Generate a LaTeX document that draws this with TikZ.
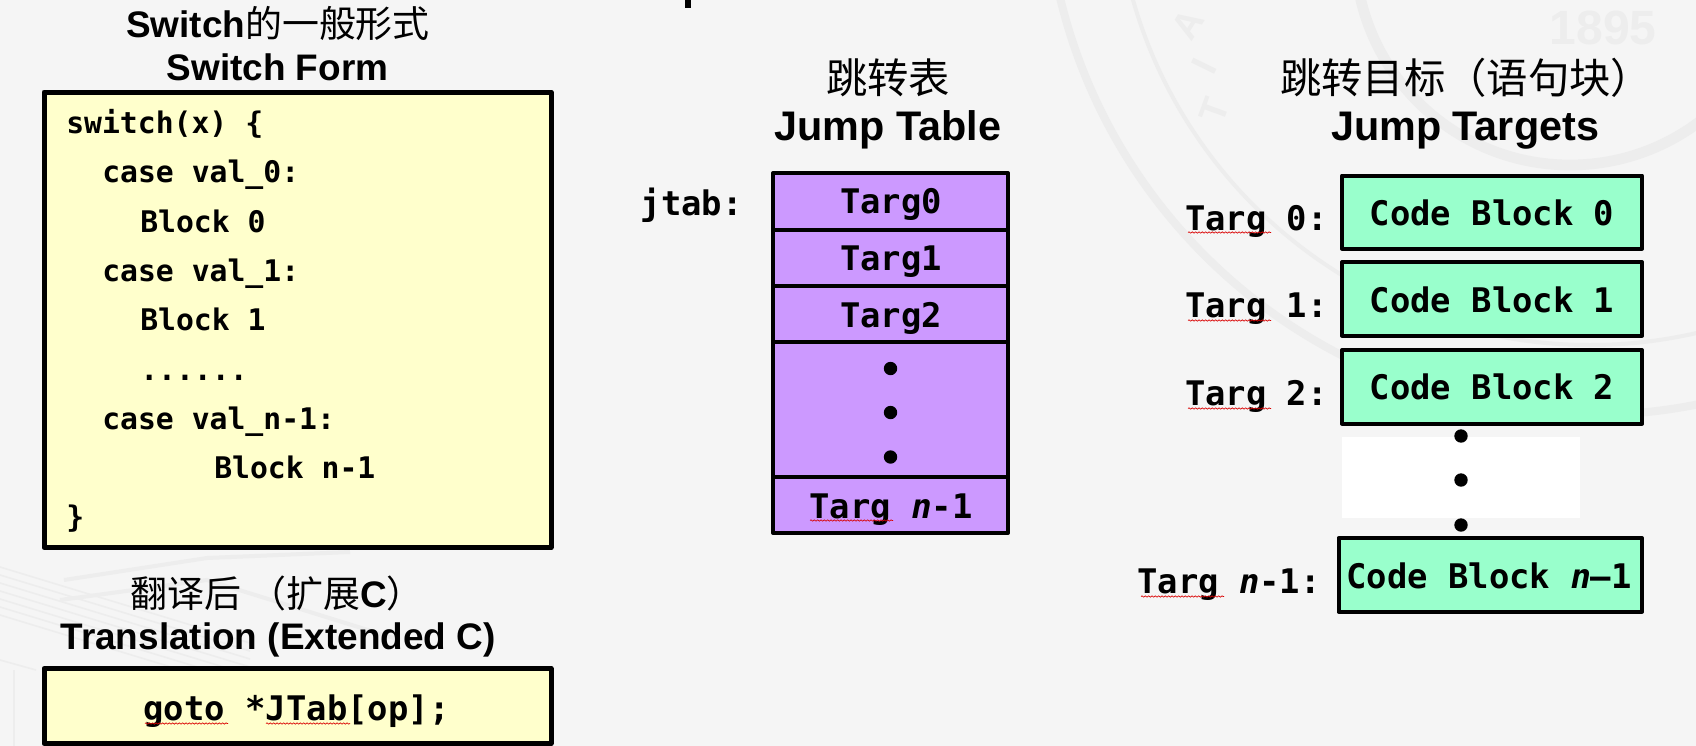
\documentclass[tikz,border=0pt]{standalone}
\usepackage{fontspec}
\setmainfont{Liberation Sans}
\setmonofont{DejaVu Sans Mono}
\newfontfamily\cjk{Noto Sans CJK SC}
\usetikzlibrary{decorations.pathmorphing}
\definecolor{slidebg}{HTML}{F5F5F5}
\definecolor{faintmark}{HTML}{EDEDED}
\definecolor{codeyellow}{HTML}{FFFFCC}
\definecolor{tablepurple}{HTML}{CC99FF}
\definecolor{blockgreen}{HTML}{99FFCC}
\newcommand{\hanzi}[1]{{\cjk\mdseries #1}}
\tikzset{
    heavybox/.style={draw=black, line width=3.75pt, line join=round},
    thinbox/.style={draw=black, line width=3pt, line join=round},
    title/.style={anchor=base, inner sep=0pt, font=\fontsize{27.7}{30}\selectfont\bfseries},
    bigtitle/.style={anchor=base, inner sep=0pt, font=\fontsize{31}{33}\selectfont\bfseries},
    code/.style={anchor=base west, inner sep=0pt, font=\fontsize{22.3}{24}\selectfont\ttfamily\bfseries},
    tabletext/.style={anchor=base, inner sep=0pt, font=\fontsize{25.4}{27}\selectfont\ttfamily\bfseries},
    targlabel/.style={anchor=base east, inner sep=0pt, font=\fontsize{25.4}{27}\selectfont\ttfamily\bfseries},
    spellmark/.style={draw=red!85!black, line width=0.5pt, decorate, decoration={snake, amplitude=0.5pt, segment length=2.5pt}},
    dotmark/.style={fill=black},
    sealring/.style={draw=faintmark},
    sealletter/.style={text=faintmark, inner sep=0pt, font=\fontsize{28}{30}\selectfont\bfseries},
    sealyear/.style={text=faintmark, inner sep=0pt, font=\fontsize{36}{36}\selectfont\bfseries},
    roofline/.style={draw=faintmark, line width=1.2pt}
}
\begin{document}
\begin{tikzpicture}[x=0.75pt, y=-0.75pt]

    \useasboundingbox (0,0) rectangle (1696,746);
    \fill[slidebg] (0,0) rectangle (1696,746);

    \begin{scope}
        \clip (0,0) rectangle (1696,746);
        \draw[sealring, line width=6pt] (1590,-130) circle (545);
        \draw[sealring, line width=3pt] (1590,-130) circle (475);
        \draw[sealring, line width=8pt] (1570,-50) circle (215);
        \node[sealyear] (year) at (1603,28) {1895};
        \node[sealletter, rotate=70] (sealt) at (1214,110) {T};
        \node[sealletter, rotate=64] (seali) at (1204,66) {I};
        \node[sealletter, rotate=58] (seala) at (1188,24) {A};
        \foreach \shift in {0,8,...,48} {
            \draw[roofline] (0,567+\shift) -- (250,643+\shift);
        }
        \draw[roofline, line width=3pt] (64,580) -- (207,558) -- (350,552);
        \draw[roofline, line width=3pt] (60,600) -- (207,580) -- (400,640);
        \draw[roofline] (0,660) -- (36,670);
        \draw[roofline] (14,670) -- (14,746);
    \end{scope}

    \fill[black] (685,0) rectangle (691,8);

    \node[title] (switchzh) at (278,37) {Switch\hanzi{的一般形式}};
    \node[title] (switchen) at (277.5,80) {Switch Form};
    \draw[heavybox, fill=codeyellow] (44,92) rectangle (551,547.5);

    \node[code] (line0) at (66,133) {switch(x) \{};
    \node[code] (line1) at (102,182) {case val\_0:};
    \node[code] (line2) at (140,232) {Block 0};
    \node[code] (line3) at (102,281) {case val\_1:};
    \node[code] (line4) at (140,330) {Block 1};
    \node[code] (line5) at (140,380) {......};
    \node[code] (line6) at (102,429) {case val\_n-1:};
    \node[code] (line7) at (214,478) {Block n-1};
    \node[code] (line8) at (66,527) {\}};

    \node[title] (transzh) at (277,607) {\hanzi{翻译后 （扩展}C\hanzi{）}};
    \node[title] (transen) at (278,649) {Translation (Extended C)};
    \draw[heavybox, fill=codeyellow] (44,668.5) rectangle (551,743.5);
    \node[tabletext] (gotoline) at (296.5,720) {goto *JTab[op];};
    \draw[spellmark] (145,723.5) -- (228,723.5);
    \draw[spellmark] (266,723.5) -- (350,723.5);

    \node[bigtitle] (tablezh) at (888,93) {\hanzi{跳转表}};
    \node[bigtitle] (tableen) at (888,140) {Jump Table};
    \node[targlabel] (jtab) at (743,215) {jtab:};
    \draw[thinbox, fill=tablepurple] (773,173) rectangle (1008,533);
    \draw[thinbox] (773,230) -- (1008,230);
    \draw[thinbox] (773,286) -- (1008,286);
    \draw[thinbox] (773,342) -- (1008,342);
    \draw[thinbox] (773,477) -- (1008,477);
    \node[tabletext] (targ0) at (891,213.5) {Targ0};
    \node[tabletext] (targ1) at (891,270) {Targ1};
    \node[tabletext] (targ2) at (891,327) {Targ2};
    \node[tabletext] (targn) at (891,518) {Targ \textit{n}-1};
    \draw[spellmark] (810,520.5) -- (893,520.5);
    \fill[dotmark] (890.5,368.5) circle (6.7);
    \fill[dotmark] (890.5,412.5) circle (6.7);
    \fill[dotmark] (890.5,457) circle (6.7);

    \node[bigtitle] (targetzh) at (1466,93) {\hanzi{跳转目标（语句块）}};
    \node[bigtitle] (targeten) at (1465,140) {Jump Targets};

    \fill[white] (1342,437) rectangle (1580,517.5);
    \fill[dotmark] (1461,436) circle (6.7);
    \fill[dotmark] (1461,480) circle (6.7);
    \fill[dotmark] (1461,525) circle (6.7);

    \draw[thinbox, fill=blockgreen] (1342,175.5) rectangle (1642,248.5);
    \draw[thinbox, fill=blockgreen] (1342,262) rectangle (1642,335.5);
    \draw[thinbox, fill=blockgreen] (1342,350) rectangle (1642,423.5);
    \draw[thinbox, fill=blockgreen] (1338.5,538) rectangle (1642,611.5);
    \node[tabletext] (block0) at (1492,225.5) {Code Block 0};
    \node[tabletext] (block1) at (1492,312) {Code Block 1};
    \node[tabletext] (block2) at (1492,399) {Code Block 2};
    \node[tabletext] (blockn) at (1489,588) {Code Block \textit{n}–1};

    \node[targlabel] (label0) at (1328,230) {Targ 0:};
    \node[targlabel] (label1) at (1328,317) {Targ 1:};
    \node[targlabel] (label2) at (1328,405) {Targ 2:};
    \node[targlabel] (labeln) at (1321,593) {Targ \textit{n}-1:};
    \draw[spellmark] (1188,232.5) -- (1271,232.5);
    \draw[spellmark] (1188,320.5) -- (1271,320.5);
    \draw[spellmark] (1188,408.5) -- (1271,408.5);
    \draw[spellmark] (1141,596.5) -- (1224,596.5);

\end{tikzpicture}
\end{document}
